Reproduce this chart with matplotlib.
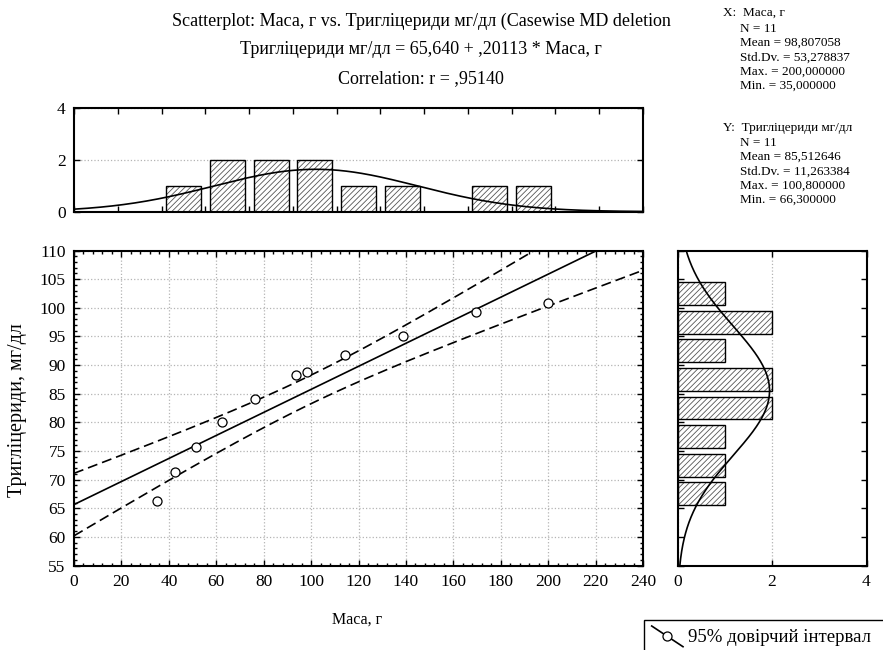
import numpy as np
import matplotlib
matplotlib.use("Agg")
from matplotlib import pyplot as plt
from matplotlib.lines import Line2D
from matplotlib.patches import Rectangle
from matplotlib.ticker import MultipleLocator

# data
mass = [35, 42.5, 51.5, 62.5, 76.3, 93.6, 98.4, 114.3, 138.9, 169.4, 200]
trig = [66.3, 71.3, 75.7, 80.0, 84.1, 88.2, 88.8, 91.7, 95.1, 99.2, 100.8]

mass_bins = [46.15, 64.6, 83.1, 101.5, 120.0, 138.5, 156.9, 175.4, 193.8]
mass_counts = [1, 2, 2, 2, 1, 1, 0, 1, 1]
trig_bins = [67.5, 72.5, 77.5, 82.5, 87.5, 92.5, 97.5, 102.5]
trig_counts = [1, 1, 1, 2, 2, 1, 2, 1]

# statistics shown on the chart
n = 11
intercept, slope, r = 65.640, 0.20113, 0.95140
x_mean, x_sd = 98.807058, 53.278837
y_mean, y_sd = 85.512646, 11.263384
t975 = 2.262
# fitted curve over the top histogram (as drawn)
xcurve_mu, xcurve_sd, xcurve_peak = 102.0, 43.0, 1.64
trig_binw = 5.0

plt.rcParams['font.family'] = ['Liberation Serif', 'DejaVu Serif']
plt.rcParams['hatch.linewidth'] = 0.6
W, H = 883, 650

def box(l, t, r_, b):
    return [l / W, 1 - b / H, (r_ - l) / W, (b - t) / H]

def fx(px):
    return px / W

def fy(py):
    return 1 - py / H

fig = plt.figure(figsize=(W / 100, H / 100), dpi=100)
ax = fig.add_axes(box(74, 250.5, 643, 565.5))
axt = fig.add_axes(box(74, 108.3, 643, 211.7))
axr = fig.add_axes(box(677.5, 250.5, 866.5, 565.5))

tick_fs = 12.5
for a in (ax, axt, axr):
    for s in a.spines.values():
        s.set_linewidth(1.5)
    a.tick_params(which='both', direction='in', top=True, right=True,
                  labelsize=tick_fs, width=1.0, pad=6)
    a.tick_params(which='major', length=4)
    a.tick_params(which='minor', length=2.5)

# main scatter
xs = np.linspace(0, 240, 300)
yhat = intercept + slope * xs
s_res = y_sd * np.sqrt((1 - r ** 2) * (n - 1) / (n - 2))
sxx = (n - 1) * x_sd ** 2
half = t975 * s_res * np.sqrt(1 / n + (xs - x_mean) ** 2 / sxx)

ax.grid(True, which='major', linestyle=':', color='#b4b4b4', linewidth=0.9)
ax.plot(xs, yhat, color='black', linewidth=1.2)
ax.plot(xs, yhat + half, color='black', linewidth=1.2, linestyle=(0, (6, 3)))
ax.plot(xs, yhat - half, color='black', linewidth=1.2, linestyle=(0, (6, 3)))
ax.plot(mass, trig, linestyle='none', marker='o', markersize=6.5,
        markerfacecolor='white', markeredgecolor='black', markeredgewidth=0.9)
ax.set_xlim(0, 240)
ax.set_ylim(55, 110)
ax.xaxis.set_major_locator(MultipleLocator(20))
ax.xaxis.set_minor_locator(MultipleLocator(4))
ax.yaxis.set_major_locator(MultipleLocator(5))
ax.yaxis.set_minor_locator(MultipleLocator(1))
ax.set_axisbelow(True)

fig.text(fx(357), fy(620), 'Маса, г', ha='center', va='center', fontsize=11.5)
fig.text(fx(18), fy(410), 'Тригліцериди, мг/дл', ha='center', va='center',
         rotation=90, fontsize=14.5)

# top histogram
bw = 240 / 13 * 0.8
axt.grid(True, axis='y', linestyle=':', color='#b4b4b4', linewidth=0.9)
axt.bar(mass_bins, mass_counts, width=bw, color='white', edgecolor='#555555',
        hatch='//////', linewidth=0)
axt.bar(mass_bins, mass_counts, width=bw, fill=False, edgecolor='black', linewidth=1.0)
axt.plot(xs, xcurve_peak * np.exp(-0.5 * ((xs - xcurve_mu) / xcurve_sd) ** 2),
         color='black', linewidth=1.2)
axt.set_xlim(0, 240)
axt.set_ylim(0, 4)
axt.set_xticks(np.arange(14) * 240 / 13)
axt.set_xticklabels([])
axt.set_yticks([0, 2, 4])
axt.set_axisbelow(True)

# right histogram
ys = np.linspace(55, 110, 300)
ycurve = n * trig_binw / (y_sd * np.sqrt(2 * np.pi)) * np.exp(-0.5 * ((ys - y_mean) / y_sd) ** 2)
axr.grid(True, axis='x', linestyle=':', color='#b4b4b4', linewidth=0.9)
axr.barh(trig_bins, trig_counts, height=4.0, color='white', edgecolor='#555555',
         hatch='//////', linewidth=0)
axr.barh(trig_bins, trig_counts, height=4.0, fill=False, edgecolor='black', linewidth=1.0)
axr.plot(ycurve, ys, color='black', linewidth=1.2)
axr.set_xlim(0, 4)
axr.set_ylim(55, 110)
axr.set_xticks([0, 2, 4])
axr.yaxis.set_major_locator(MultipleLocator(5))
axr.set_yticklabels([])
axr.set_axisbelow(True)

# title block
title_fs = 13
fig.text(fx(421), fy(21), 'Scatterplot: Маса, г vs. Тригліцериди мг/дл (Casewise MD deletion',
         ha='center', va='center', fontsize=title_fs)
fig.text(fx(421), fy(50), 'Тригліцериди мг/дл = 65,640 + ,20113 * Маса, г',
         ha='center', va='center', fontsize=title_fs)
fig.text(fx(421), fy(79), 'Correlation: r = ,95140', ha='center', va='center', fontsize=title_fs)

# descriptive statistics
stat_fs = 9.5
x_lines = ['N = 11', 'Mean = 98,807058', 'Std.Dv. = 53,278837',
           'Max. = 200,000000', 'Min. = 35,000000']
y_lines = ['N = 11', 'Mean = 85,512646', 'Std.Dv. = 11,263384',
           'Max. = 100,800000', 'Min. = 66,300000']
fig.text(fx(723), fy(13), 'X:  Маса, г', va='center', fontsize=stat_fs)
for i, t in enumerate(x_lines):
    fig.text(fx(740), fy(29 + 14.2 * i), t, va='center', fontsize=stat_fs)
fig.text(fx(723), fy(128), 'Y:  Тригліцериди мг/дл', va='center', fontsize=stat_fs)
for i, t in enumerate(y_lines):
    fig.text(fx(740), fy(143 + 14.2 * i), t, va='center', fontsize=stat_fs)

# legend
fig.add_artist(Rectangle((fx(644), fy(670)), fx(260), 50 / H, transform=fig.transFigure,
                         fill=False, edgecolor='black', linewidth=1.0))
fig.add_artist(Line2D([fx(651.7), fx(683)], [fy(626), fy(646.7)], transform=fig.transFigure,
                      color='black', linewidth=1.2))
fig.add_artist(Line2D([fx(667)], [fy(636)], transform=fig.transFigure, marker='o',
                      markersize=6.5, markerfacecolor='white', markeredgecolor='black',
                      markeredgewidth=0.9, linestyle='none'))
fig.text(fx(688), fy(637), '95% довірчий інтервал', va='center', fontsize=13.5)

fig.savefig('out.png', dpi=100)
